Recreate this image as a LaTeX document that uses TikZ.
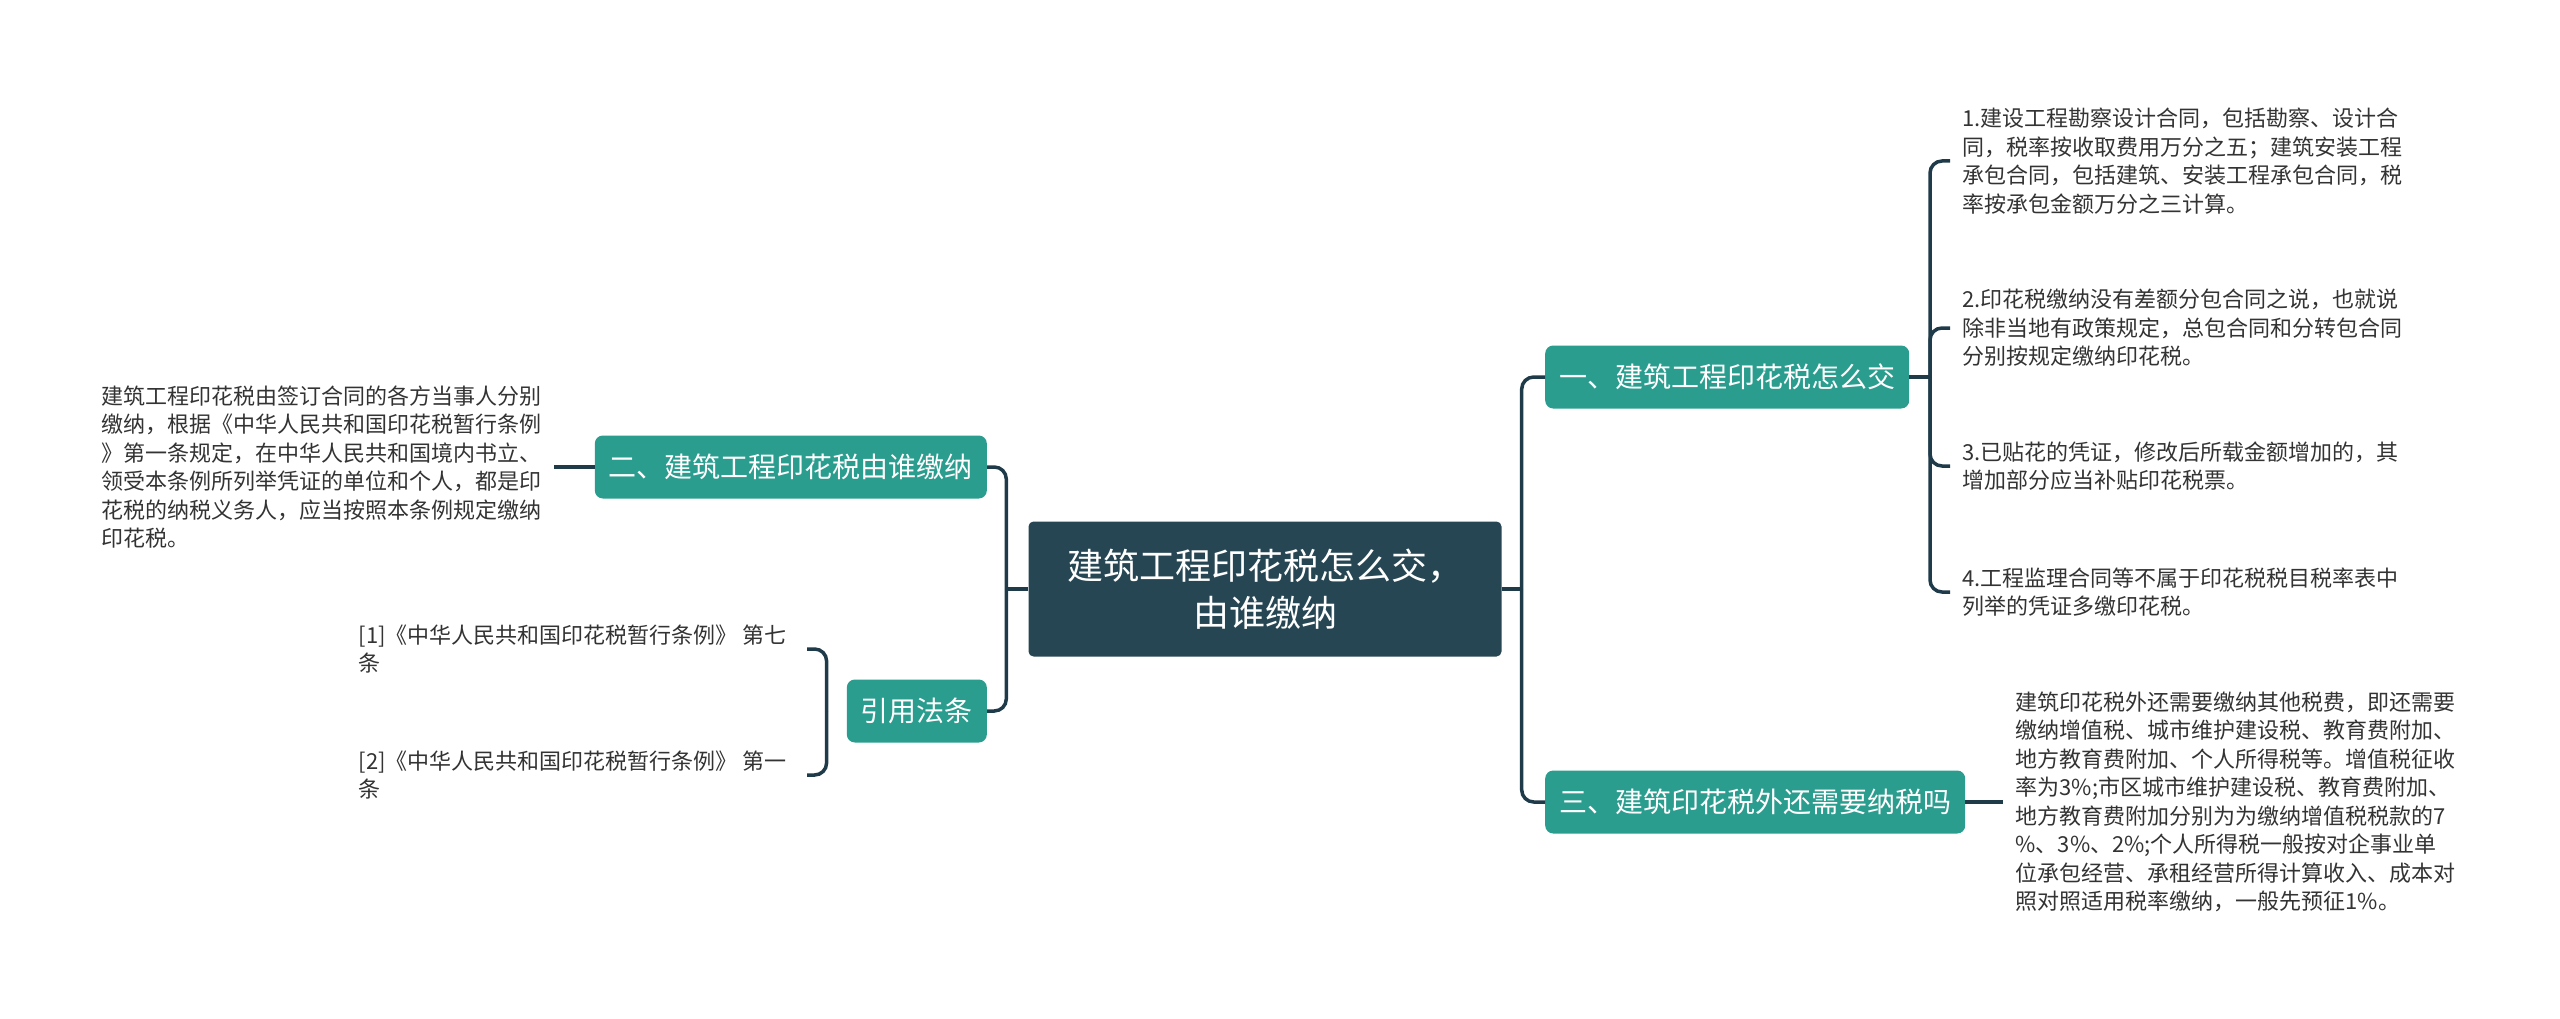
\documentclass[tikz,border=0pt]{standalone}
\usepackage{fontspec}
\setmainfont{Noto Sans CJK SC}
\usepackage{tikz}
\usetikzlibrary{positioning,calc}
\definecolor{rootfill}{HTML}{264653}
\definecolor{branchfill}{HTML}{2A9D8F}
\definecolor{linkcol}{HTML}{1F3B4A}
\definecolor{leaftext}{HTML}{333333}

\begin{document}
\begin{tikzpicture}[x=1pt, y=-1pt, node distance=38pt]
\tikzstyle{rootbox}=[fill=rootfill, text=white, rounded corners=5pt, align=center, minimum width=473pt, minimum height=135pt, font=\fontsize{36}{47}\selectfont]
\tikzstyle{branch}=[fill=branchfill, text=white, rounded corners=8pt, inner xsep=14pt, minimum height=63pt, font=\fontsize{28}{34}\selectfont]
\tikzstyle{leaf}=[text=leaftext, align=left, inner xsep=12pt, inner ysep=0pt, font=\fontsize{22}{28.5}\selectfont]
\tikzstyle{link}=[draw=linkcol, line width=3.5pt, rounded corners=12pt]
\useasboundingbox (0,0) rectangle (2560,1019);
% centre and main branches
\node[rootbox] (root) at (1265,589) {建筑工程印花税怎么交，\\由谁缴纳};
\node[branch, anchor=west] (b1) at (1545,377) {一、建筑工程印花税怎么交};
\node[branch, anchor=west] (b3) at (1545,802) {三、建筑印花税外还需要纳税吗};
\node[branch, anchor=east] (b2) at (987,467) {二、建筑工程印花税由谁缴纳};
\node[branch, anchor=east] (law) at (987,711) {引用法条};
% leaves
\node[leaf, anchor=west] (l1) at (1950,161) {1.建设工程勘察设计合同，包括勘察、设计合\\同，税率按收取费用万分之五；建筑安装工程\\承包合同，包括建筑、安装工程承包合同，税\\率按承包金额万分之三计算。};
\node[leaf, anchor=west] (l2) at (1950,328) {2.印花税缴纳没有差额分包合同之说，也就说\\除非当地有政策规定，总包合同和分转包合同\\分别按规定缴纳印花税。};
\node[leaf, anchor=west] (l3) at (1950,466) {3.已贴花的凭证，修改后所载金额增加的，其\\增加部分应当补贴印花税票。};
\node[leaf, anchor=west] (l4) at (1950,592) {4.工程监理合同等不属于印花税税目税率表中\\列举的凭证多缴印花税。};
\node[leaf, right=38pt of b3] (l5) {建筑印花税外还需要缴纳其他税费，即还需要\\缴纳增值税、城市维护建设税、教育费附加、\\地方教育费附加、个人所得税等。增值税征收\\率为3\%;市区城市维护建设税、教育费附加、\\地方教育费附加分别为为缴纳增值税税款的7\\\%、3\%、2\%;个人所得税一般按对企事业单\\位承包经营、承租经营所得计算收入、成本对\\照对照适用税率缴纳，一般先预征1\%。};
\node[leaf, left=41pt of b2] (lt) {建筑工程印花税由签订合同的各方当事人分别\\缴纳，根据《中华人民共和国印花税暂行条例\\》第一条规定，在中华人民共和国境内书立、\\领受本条例所列举凭证的单位和个人，都是印\\花税的纳税义务人，应当按照本条例规定缴纳\\印花税。};
\node[leaf, anchor=east, inner xsep=20pt] (c1) at (807,649) {[1]《中华人民共和国印花税暂行条例》 第七\\条};
\node[leaf, anchor=east, inner xsep=20pt] (c2) at (807,775) {[2]《中华人民共和国印花税暂行条例》 第一\\条};
% connectors
\coordinate (rj) at ($(root.east)+(20,0)$);
\coordinate (lj) at ($(root.west)+(-22,0)$);
\path (b1.east -| l1.west) ++(-20,0) coordinate (b1j);
\coordinate (lawj) at ($(law.west)+(-20,0)$);
\draw[link] (root.east) -- (rj);
\draw[link] (root.west) -- (lj);
\draw[link] (b1.east) -- (b1j);
\foreach \n in {b1,b3} \draw[link] (rj) |- (\n.west);
\foreach \n in {b2,law} \draw[link] (lj) |- (\n.east);
\foreach \n in {l1,l2,l3,l4} \draw[link] (b1j) |- (\n.west);
\foreach \n in {c1,c2} \draw[link] (lawj) |- (\n.east);
\draw[link] (b3.east) -- (l5.west);
\draw[link] (b2.west) -- (lt.east);
\end{tikzpicture}
\end{document}
